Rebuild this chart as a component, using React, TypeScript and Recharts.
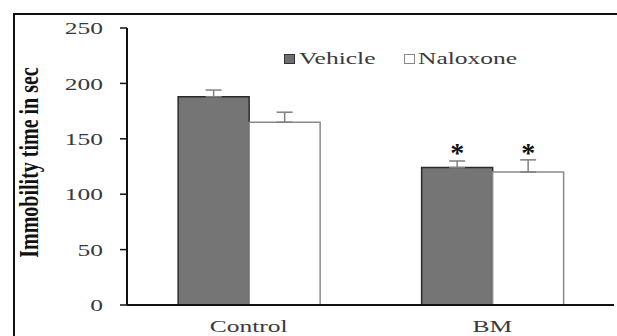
import React from "react"
import { BarChart, Bar, XAxis, YAxis, ErrorBar, LabelList, Label } from "recharts"

const groups = ["Control", "BM"]
const vehicle = [188, 124]
const naloxone = [165, 120]
const vehicleErr = [6, 6]
const naloxoneErr = [9, 11]
const signif = ["", "*"]
const yTicks = [0, 50, 100, 150, 200, 250]

const data = groups.map((g, i) => ({
  group: g,
  vehicle: vehicle[i],
  naloxone: naloxone[i],
  vehErr: [0, vehicleErr[i]],
  nalErr: [0, naloxoneErr[i]],
  sig: signif[i],
}))

const serif = "'Liberation Serif', 'Times New Roman', serif"

const YTick = (props: any) => {
  const { x, y, payload } = props
  return (
    <g transform={`translate(${x},${y})`}>
      <text textAnchor="end" dy="0.36em" fill="#3a3a3a" fontSize={17} fontFamily={serif} transform="scale(1.5,1)">
        {payload.value}
      </text>
    </g>
  )
}

const XTick = (props: any) => {
  const { x, y, payload } = props
  return (
    <g transform={`translate(${x},${y})`}>
      <text textAnchor="middle" dy={27} fill="#3a3a3a" fontSize={17} fontFamily={serif} transform="scale(1.5,1)">
        {payload.value}
      </text>
    </g>
  )
}

const YLabel = (props: any) => {
  const { viewBox } = props
  const cy = viewBox.y + viewBox.height / 2 - 4
  return (
    <g transform={`translate(29,${cy}) scale(1.35,1) rotate(-90)`}>
      <text textAnchor="middle" dy="0.35em" fill="#111" fontSize={20} fontWeight="bold" fontFamily={serif}>
        Immobility time in sec
      </text>
    </g>
  )
}

const LegendBox = () => (
  <div
    style={{
      position: "absolute",
      left: 284,
      top: 49,
      display: "flex",
      alignItems: "center",
      fontFamily: serif,
      fontSize: 17,
      color: "#3a3a3a",
      whiteSpace: "nowrap",
    }}
  >
    <span style={{ width: 11, height: 10, background: "#6e6e6e", border: "1px solid #333", boxSizing: "border-box" }} />
    <span style={{ display: "inline-block", transform: "scaleX(1.5)", transformOrigin: "left center", marginLeft: 4, width: 81 }}>Vehicle</span>
    <span style={{ width: 11, height: 10, background: "#fff", border: "1px solid #888", boxSizing: "border-box", marginLeft: 24 }} />
    <span style={{ display: "inline-block", transform: "scaleX(1.5)", transformOrigin: "left center", marginLeft: 3 }}>Naloxone</span>
  </div>
)

export default function App() {
  return (
    <div style={{ position: "fixed", left: 0, top: 0, width: 617, height: 336, background: "#fff", overflow: "hidden" }}>
      <div style={{ position: "absolute", left: 13, top: 13, width: 700, height: 400, border: "2px solid #111" }} />
      <div style={{ position: "absolute", left: 0, top: 0 }}>
        <BarChart
          width={617}
          height={336}
          data={data}
          margin={{ top: 28, right: 3, left: 0, bottom: 0 }}
          barCategoryGap="21%"
          barGap={0}
        >
          <YAxis
            width={127}
            domain={[0, 250]}
            ticks={yTicks}
            interval={0}
            axisLine={{ stroke: "#111", strokeWidth: 2 }}
            tickLine={{ stroke: "#111", strokeWidth: 1.5 }}
            tickSize={7}
            tickMargin={17}
            tick={<YTick />}
          >
            <Label content={<YLabel />} />
          </YAxis>
          <XAxis
            dataKey="group"
            axisLine={{ stroke: "#111", strokeWidth: 2 }}
            tickLine={false}
            tickSize={0}
            tickMargin={0}
            tick={<XTick />}
            height={31}
          />
          <Bar dataKey="vehicle" name="Vehicle" fill="#757575" stroke="#2a2a2a" strokeWidth={1.5} isAnimationActive={false}>
            <ErrorBar dataKey="vehErr" width={8} stroke="#808080" strokeWidth={1.5} direction="y" />
            <LabelList dataKey="sig" position="top" offset={6} fill="#111" fontSize={28} fontWeight="bold" fontFamily={serif} />
          </Bar>
          <Bar dataKey="naloxone" name="Naloxone" fill="#ffffff" stroke="#8a8a8a" strokeWidth={1.5} isAnimationActive={false}>
            <ErrorBar dataKey="nalErr" width={8} stroke="#808080" strokeWidth={1.5} direction="y" />
            <LabelList dataKey="sig" position="top" offset={10} fill="#111" fontSize={28} fontWeight="bold" fontFamily={serif} />
          </Bar>
        </BarChart>
      </div>
      <LegendBox />
    </div>
  )
}
